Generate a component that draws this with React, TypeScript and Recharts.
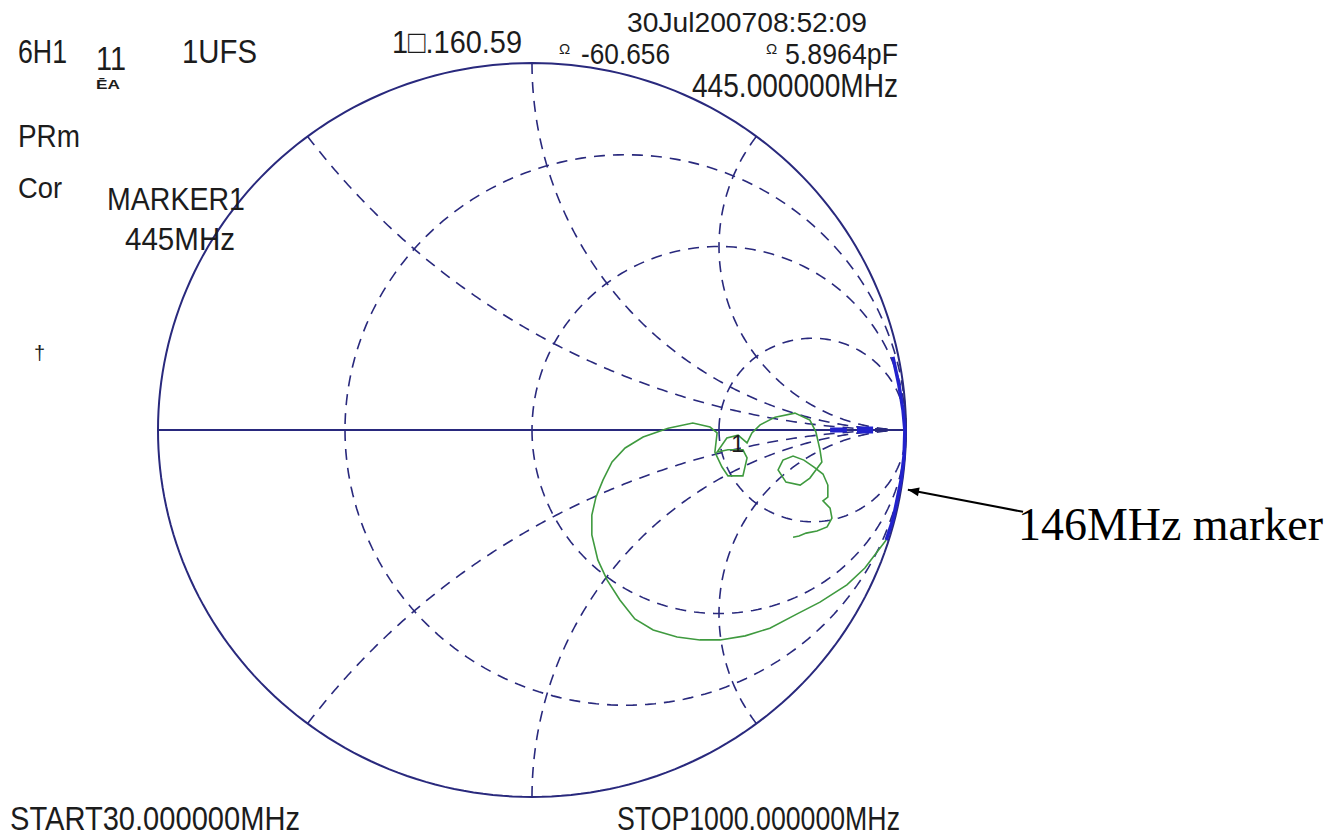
import { ScatterChart, Scatter, XAxis, YAxis, ReferenceLine } from "recharts";

const W = 1336;
const H = 838;

const NAVY = "#29297d";
const GREEN = "#3f9a3f";
const BLUE = "#2222cc";
const INK = "#1c1c1c";

// Smith grid: constant-resistance circles and constant-reactance arcs (normalised)
const resistanceCircles = [1 / 3, 1, 3];
const reactanceArcs = [0.5, 1, 2, -0.5, -1, -2];

// S11 trace as reflection coefficient, 30 MHz .. 1000 MHz
const traceRe = [
  0.947, 0.89, 0.842, 0.77, 0.709, 0.636, 0.57, 0.503, 0.449, 0.388, 0.324, 0.275, 0.235,
  0.201, 0.176, 0.16, 0.16, 0.171, 0.19, 0.214, 0.249, 0.297, 0.364, 0.43, 0.476, 0.495,
  0.489, 0.508, 0.524, 0.564, 0.575, 0.564, 0.524, 0.495, 0.521, 0.551, 0.575, 0.588, 0.61,
  0.65, 0.703, 0.743, 0.759, 0.77, 0.775, 0.759, 0.743, 0.717, 0.679, 0.658, 0.671, 0.698,
  0.727, 0.754, 0.778, 0.791, 0.791, 0.778, 0.797, 0.802, 0.789, 0.762, 0.733, 0.714, 0.698,
];
const traceIm = [
  -0.3, -0.376, -0.422, -0.469, -0.501, -0.54, -0.561, -0.572, -0.572, -0.564, -0.545, -0.515,
  -0.463, -0.409, -0.354, -0.286, -0.232, -0.183, -0.136, -0.087, -0.049, -0.019, 0.005, 0.019,
  0.008, -0.008, -0.06, -0.101, -0.125, -0.125, -0.076, -0.054, -0.054, -0.06, -0.022, -0.014,
  -0.035, -0.008, 0.014, 0.035, 0.046, 0.027, -0.005, -0.054, -0.087, -0.109, -0.131, -0.15,
  -0.142, -0.109, -0.082, -0.071, -0.082, -0.101, -0.12, -0.15, -0.183, -0.193, -0.213, -0.24,
  -0.264, -0.275, -0.281, -0.289, -0.292,
];

// low-frequency part of the trace hugging the rim
const rimRe = [0.965, 0.981, 0.992, 0.997, 0.995, 0.987, 0.976, 0.965, 0.947];
const rimIm = [0.199, 0.123, 0.054, 0, -0.068, -0.136, -0.191, -0.245, -0.3];

// marker symbols sitting on the real axis
const axisMarkRe = [
  [0.797, 0.842],
  [0.869, 0.912],
];

// 146 MHz marker position on the rim
const marker146 = { re: 1.005, im: -0.163 };

type Pt = { x: number; y: number };
const STEPS = 240;

function zip(re: number[], im: number[]): Pt[] {
  return re.map((x, i) => ({ x, y: im[i] }));
}

function unitCircle(): Pt[] {
  const pts: Pt[] = [];
  for (let i = 0; i <= STEPS; i++) {
    const a = Math.PI + (2 * Math.PI * i) / STEPS;
    pts.push({ x: Math.cos(a), y: Math.sin(a) });
  }
  return pts;
}

function resistancePts(r: number): Pt[] {
  const cx = r / (1 + r);
  const rad = 1 / (1 + r);
  const pts: Pt[] = [];
  for (let i = 0; i <= STEPS; i++) {
    const a = Math.PI + (2 * Math.PI * i) / STEPS;
    pts.push({ x: cx + rad * Math.cos(a), y: rad * Math.sin(a) });
  }
  return pts;
}

// arc from the rim down to the open-circuit point (1, 0)
function reactancePts(x: number): Pt[] {
  const ax = Math.abs(x);
  const rad = 1 / ax;
  let end = Math.atan2((ax * ax - 1) / (ax * (ax * ax + 1)), -2 / (ax * ax + 1));
  if (end > -Math.PI / 2) end -= 2 * Math.PI;
  const pts: Pt[] = [];
  for (let i = 0; i <= STEPS; i++) {
    const a = end + ((-Math.PI / 2 - end) * i) / STEPS;
    const gy = rad + rad * Math.sin(a);
    pts.push({ x: 1 + rad * Math.cos(a), y: x > 0 ? gy : -gy });
  }
  return pts;
}

const gridCurves = [
  ...resistanceCircles.map(resistancePts),
  ...reactanceArcs.map(reactancePts),
];

const NoDot = () => <g />;

const dashed = { stroke: NAVY, strokeWidth: 1.6, strokeDasharray: "11 8" };

// header / footer readouts of the analyser screen
const readouts = [
  { text: "6H1", x: 18, y: 63, w: 49, size: 33 },
  { text: "11", x: 96, y: 70, w: 30, size: 33 },
  { text: "1UFS", x: 182, y: 63, w: 75, size: 33 },
  { text: "PRm", x: 18, y: 147, w: 62, size: 31 },
  { text: "Cor", x: 18, y: 198, w: 44, size: 30 },
  { text: "MARKER1", x: 107, y: 210, w: 138, size: 32 },
  { text: "445MHz", x: 125, y: 250, w: 110, size: 32 },
  { text: "1\u25a1.160.59", x: 392, y: 53, w: 130, size: 32 },
  { text: "-60.656", x: 581, y: 64, w: 89, size: 29 },
  { text: "30Jul200708:52:09", x: 627, y: 32, w: 240, size: 28 },
  { text: "5.8964pF", x: 785, y: 64, w: 113, size: 29 },
  { text: "445.000000MHz", x: 692, y: 97, w: 206, size: 33 },
  { text: "START30.000000MHz", x: 10, y: 830, w: 290, size: 34 },
  { text: "STOP1000.000000MHz", x: 617, y: 830, w: 283, size: 34 },
];

function Arrow(props: any) {
  const { x1, y1, x2, y2 } = props;
  const ang = Math.atan2(y1 - y2, x1 - x2);
  const len = 12;
  const spread = 0.38;
  const p1 = [x1 - len * Math.cos(ang - spread), y1 - len * Math.sin(ang - spread)];
  const p2 = [x1 - len * Math.cos(ang + spread), y1 - len * Math.sin(ang + spread)];
  return (
    <g>
      <line x1={x1} y1={y1} x2={x2} y2={y2} stroke="#000" strokeWidth={2} />
      <polygon points={`${x1},${y1} ${p1[0]},${p1[1]} ${p2[0]},${p2[1]}`} fill="#000" />
    </g>
  );
}

export default function App() {
  return (
    <div style={{ margin: -8, width: W, height: H, position: "relative", background: "#fff", overflow: "hidden" }}>
      <ScatterChart width={W} height={H} margin={{ top: 63, right: 430, bottom: 41, left: 158 }}>
        <XAxis type="number" dataKey="x" domain={[-1, 1]} hide />
        <YAxis type="number" dataKey="y" domain={[-1, 1]} hide />
        {gridCurves.map((c, i) => (
          <Scatter key={`g${i}`} data={c} line={dashed} shape={NoDot} isAnimationActive={false} />
        ))}
        <Scatter
          data={[{ x: -1, y: 0 }, { x: 1, y: 0 }]}
          line={{ stroke: NAVY, strokeWidth: 2 }}
          shape={NoDot}
          isAnimationActive={false}
        />
        <Scatter data={unitCircle()} line={{ stroke: NAVY, strokeWidth: 2 }} shape={NoDot} isAnimationActive={false} />
        <Scatter data={zip(rimRe, rimIm)} line={{ stroke: BLUE, strokeWidth: 3.5 }} shape={NoDot} isAnimationActive={false} />
        {axisMarkRe.map((seg, i) => (
          <Scatter
            key={`m${i}`}
            data={seg.map((x) => ({ x, y: 0 }))}
            line={{ stroke: BLUE, strokeWidth: i === 0 ? 5 : 7 }}
            shape={NoDot}
            isAnimationActive={false}
          />
        ))}
        <Scatter data={zip(traceRe, traceIm)} line={{ stroke: GREEN, strokeWidth: 1.6 }} shape={NoDot} isAnimationActive={false} />
        <ReferenceLine
          segment={[
            { x: marker146.re, y: marker146.im },
            { x: 1.313, y: -0.223 },
          ]}
          ifOverflow="visible"
          shape={Arrow}
        />
      </ScatterChart>
      <svg width={W} height={H} style={{ position: "absolute", left: 0, top: 0, pointerEvents: "none" }}>
        <g fontFamily="'Liberation Sans', Arial, sans-serif" fill={INK}>
          {readouts.map((r) => (
            <text key={r.text} x={r.x} y={r.y} fontSize={r.size} textLength={r.w} lengthAdjust="spacingAndGlyphs">
              {r.text}
            </text>
          ))}
          <text x={559} y={54} fontSize={15}>Ω</text>
          <text x={766} y={54} fontSize={15}>Ω</text>
          <text x={96} y={89} fontSize={12} fontWeight="bold" textLength={24} lengthAdjust="spacingAndGlyphs">ĒA</text>
          <text x={34} y={360} fontSize={20}>†</text>
          <text x={731} y={452} fontSize={24}>1</text>
        </g>
        <text x={1018} y={540} fontSize={46} fontFamily="'Liberation Serif', 'Times New Roman', serif" fill="#000" textLength={305} lengthAdjust="spacingAndGlyphs">
          146MHz marker
        </text>
      </svg>
    </div>
  );
}
